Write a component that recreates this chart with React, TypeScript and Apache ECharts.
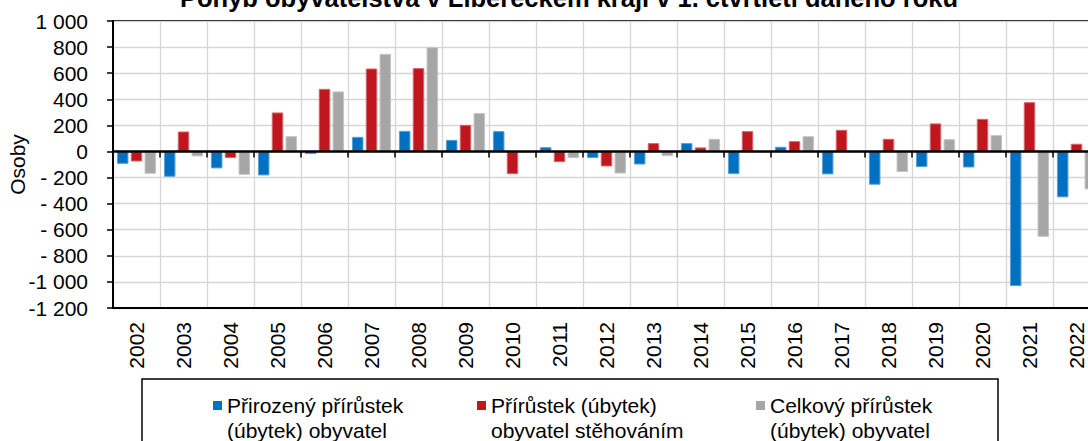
import React, { useEffect, useRef } from 'react';
import * as echarts from 'echarts';

const years = ['2002','2003','2004','2005','2006','2007','2008','2009','2010','2011','2012','2013','2014','2015','2016','2017','2018','2019','2020','2021','2022'];
const natural = [-95, -194, -130, -184, -20, 112, 158, 89, 156, 33, -51, -100, 64, -174, 36, -176, -255, -120, -123, -1032, -352];
const migration = [-77, 153, -51, 299, 480, 636, 639, 204, -174, -82, -115, 64, 31, 156, 79, 166, 97, 215, 250, 378, 59];
const total = [-171, -38, -179, 117, 460, 748, 799, 294, -8, -51, -169, -36, 97, -6, 117, -5, -158, 94, 125, -654, -291];

const seriesNames = [
  'Přirozený přírůstek (úbytek) obyvatel',
  'Přírůstek (úbytek) obyvatel stěhováním',
  'Celkový přírůstek (úbytek) obyvatel',
];
const legendLines = [
  ['Přirozený přírůstek', '(úbytek) obyvatel'],
  ['Přírůstek (úbytek)', 'obyvatel stěhováním'],
  ['Celkový přírůstek', '(úbytek) obyvatel'],
];
const colors = ['#0070C0', '#C0161F', '#A6A6A6'];
const borders = ['#5A9FD6', '#D9666C', '#C4C4C4'];
const titleText = 'Pohyb obyvatelstva v Libereckém kraji v 1. čtvrtletí daného roku';
const axisName = 'Osoby';

const FONT = "'Liberation Sans', Arial, sans-serif";

function fmt(v: number): string {
  const a = Math.abs(v);
  const s = a >= 1000 ? `${Math.floor(a / 1000)} ${String(a % 1000).padStart(3, '0')}` : String(a);
  if (v < 0) return a >= 1000 ? '-' + s : '- ' + s;
  return s;
}

export default function App() {
  const ref = useRef<HTMLDivElement>(null);
  useEffect(() => {
    const chart = echarts.init(ref.current!, null, { renderer: 'svg' });
    const data = [natural, migration, total];
    const legendX = [213, 477, 756];
    const graphic: any[] = [
      {
        type: 'rect',
        shape: { x: 142, y: 379, width: 856, height: 100 },
        style: { fill: '#fff', stroke: '#000', lineWidth: 1.5 },
        z: 10,
      },
    ];
    legendX.forEach((lx, i) => {
      graphic.push({
        type: 'rect',
        shape: { x: lx, y: 401, width: 9, height: 9 },
        style: { fill: colors[i] },
        z: 11,
      });
      graphic.push({
        type: 'text',
        x: lx + 14,
        y: 392.5,
        style: {
          text: legendLines[i].join('\n'),
          fontFamily: FONT,
          fontSize: 21,
          lineHeight: 25,
          fill: '#000',
          verticalAlign: 'top',
          align: 'left',
        },
        z: 11,
      });
    });

    chart.setOption({
      animation: false,
      backgroundColor: '#fff',
      textStyle: { fontFamily: FONT },
      title: {
        text: titleText,
        left: 'center',
        top: -15,
        padding: 0,
        textStyle: { fontFamily: FONT, fontSize: 25.5, fontWeight: 'bold', color: '#000' },
      },
      grid: {
        left: 113,
        right: 38,
        top: 21,
        bottom: 133,
        containLabel: false,
        outerBoundsMode: 'none',
        show: true,
        borderColor: '#000',
        borderWidth: 2,
        backgroundColor: 'transparent',
      },
      xAxis: [
        {
          type: 'category',
          data: years,
          position: 'bottom',
          boundaryGap: true,
          axisLine: { onZero: false, lineStyle: { color: '#000', width: 2 } },
          axisTick: { show: false },
          axisLabel: { rotate: 90, margin: 14, fontSize: 21, color: '#000', fontFamily: FONT, interval: 0 },
          splitLine: { show: true, interval: 0, lineStyle: { color: '#D6D6D6', width: 1.3 } },
        },
        {
          type: 'category',
          data: years,
          position: 'bottom',
          boundaryGap: true,
          z: 10,
          axisLine: { show: true, onZero: true, lineStyle: { color: '#000', width: 2.5 } },
          axisTick: { show: true, interval: 0, length: 6, inside: false, lineStyle: { color: '#000', width: 1.5 } },
          axisLabel: { show: false },
          splitLine: { show: false },
        },
      ],
      yAxis: {
        type: 'value',
        min: -1200,
        max: 1000,
        interval: 200,
        name: axisName,
        nameLocation: 'middle',
        nameRotate: 90,
        nameGap: 85,
        nameMoveOverlap: false,
        nameTextStyle: { fontSize: 21, color: '#000', fontFamily: FONT },
        axisLine: { show: true, lineStyle: { color: '#000', width: 2 } },
        axisTick: { show: true, length: 6, lineStyle: { color: '#000', width: 1.5 } },
        axisLabel: { margin: 25, fontSize: 21, color: '#000', fontFamily: FONT, formatter: fmt },
        splitLine: { show: true, lineStyle: { color: '#D6D6D6', width: 1.3 } },
      },
      series: data.map((d, i) => ({
        type: 'bar',
        name: seriesNames[i],
        data: d,
        xAxisIndex: 0,
        barWidth: 11.5,
        barGap: '20%',
        itemStyle: { color: colors[i], borderColor: borders[i], borderWidth: 1 },
      })),
      graphic,
    });
    return () => chart.dispose();
  }, []);
  return (
    <div style={{ position: 'fixed', left: 0, top: 0, width: 1088, height: 441, overflow: 'hidden', background: '#fff' }}>
      <div ref={ref} style={{ width: 1138, height: 441 }} />
    </div>
  );
}
